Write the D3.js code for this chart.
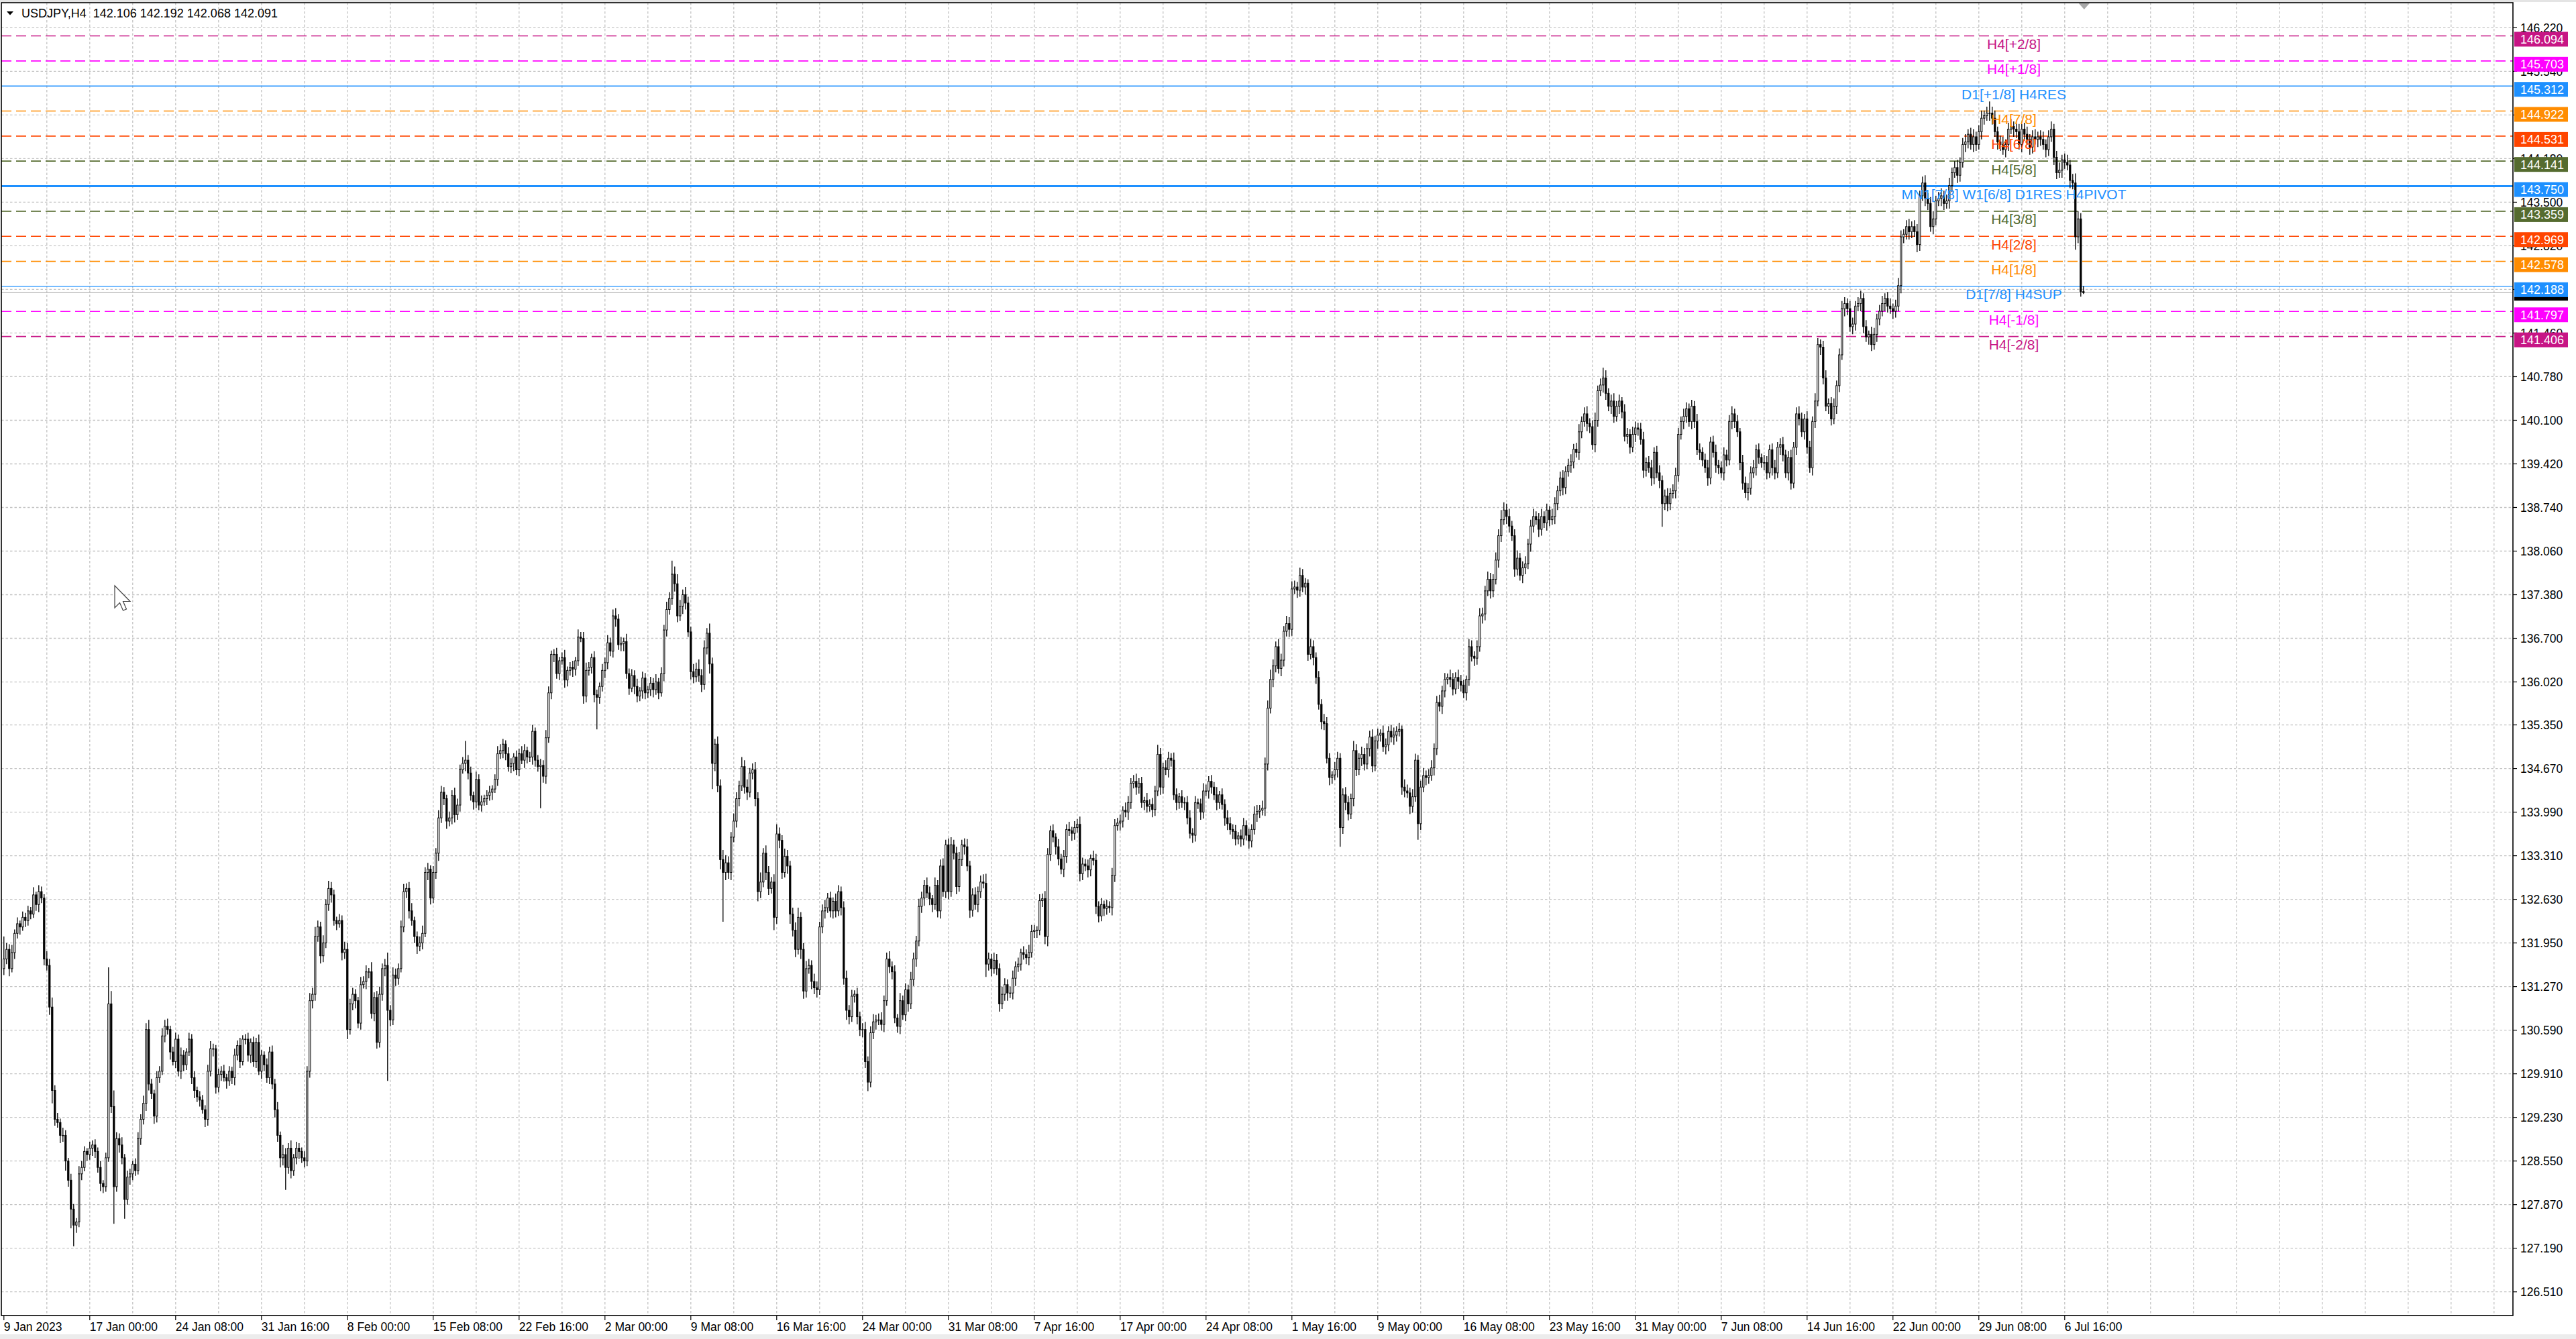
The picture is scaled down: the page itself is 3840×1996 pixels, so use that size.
<!DOCTYPE html>
<html><head><meta charset="utf-8">
<script src="https://cdn.jsdelivr.net/npm/d3@7/dist/d3.min.js"></script>
<style>html,body{margin:0;padding:0;background:#fff;overflow:hidden}svg{display:block}</style>
</head><body>
<svg id="c" width="3840" height="1996"></svg>
<script>
// ---------------- DATA ----------------
const symbolTitle = "USDJPY,H4  142.106 142.192 142.068 142.091";
const firstOpen = 131.55;
// H4 closes, one per bar, from 9 Jan 2023 16:00 to 7 Jul 2023 20:00
const closes = [
131.70,131.85,131.55,131.80,132.10,132.25,132.20,132.35,132.30,132.45,
132.40,132.70,132.55,132.75,132.65,131.70,131.60,130.95,129.65,129.20,
129.15,128.95,128.95,128.55,128.25,127.80,127.55,127.60,128.35,128.45,
128.70,128.65,128.75,128.80,128.70,128.45,128.20,128.15,128.60,131.00,
129.40,128.15,128.90,128.80,128.60,127.95,128.30,128.35,128.50,128.40,
128.90,129.20,129.45,130.60,129.75,129.60,129.25,129.85,129.95,130.50,
130.65,130.60,130.25,130.10,130.45,129.95,130.20,130.05,130.25,130.45,
129.85,129.65,129.55,129.50,129.35,129.20,129.95,130.30,130.30,129.70,
129.90,129.95,129.85,129.80,129.95,129.85,130.20,130.35,130.10,130.45,
130.45,130.20,130.40,130.10,130.40,129.95,130.20,130.05,129.85,130.25,
129.75,129.35,128.95,128.60,128.65,128.45,128.75,128.40,128.60,128.75,
128.70,128.60,128.55,129.95,131.05,131.15,132.05,132.20,131.75,131.95,
132.55,132.80,132.70,132.30,132.25,132.30,131.80,131.85,130.60,131.00,
131.15,131.05,130.70,131.30,131.35,131.50,131.50,130.85,131.10,130.40,
131.15,131.55,131.60,130.90,130.75,131.45,131.40,131.55,132.20,132.75,
132.80,132.45,132.30,132.05,131.90,131.95,132.10,133.05,133.10,132.65,
133.05,133.35,133.90,134.30,134.20,133.85,133.90,134.25,133.95,134.10,
134.65,134.75,134.80,134.60,134.25,134.15,134.50,134.10,134.15,134.20,
134.25,134.30,134.35,134.50,134.90,134.95,135.05,134.90,134.70,134.75,
134.85,134.65,134.90,134.80,134.95,134.85,134.85,135.25,134.80,134.70,
134.72,134.55,135.15,135.85,136.45,136.45,136.15,136.35,136.40,136.05,
136.20,136.25,136.22,136.35,136.72,136.70,135.80,136.20,136.25,136.40,
135.82,135.78,135.95,136.20,136.32,136.63,136.50,137.05,137.00,136.60,
136.62,136.65,136.15,135.92,136.12,135.95,135.80,135.88,136.08,135.85,
135.90,136.00,135.90,136.02,135.85,136.15,136.83,137.15,137.32,137.70,
137.55,137.05,137.20,137.38,137.25,136.80,136.18,136.10,136.22,136.12,
135.98,136.55,136.78,136.30,134.75,135.05,134.40,133.25,133.05,133.20,
133.05,133.60,133.85,134.20,134.40,134.70,134.38,134.30,134.60,134.65,
134.20,132.75,132.90,133.35,133.05,132.80,132.90,132.35,133.65,133.55,
133.05,133.30,133.15,132.40,132.15,131.85,132.35,131.85,131.20,131.55,
131.60,131.35,131.25,131.22,132.20,132.45,132.50,132.65,132.45,132.60,
132.45,132.75,132.50,131.40,130.90,130.80,131.12,131.15,130.80,130.60,
130.60,130.10,129.78,130.55,130.72,130.75,130.75,130.68,131.05,131.70,
131.58,131.50,130.78,130.65,131.05,130.83,131.22,131.00,131.38,131.70,
131.98,132.52,132.65,132.85,132.73,132.64,132.55,132.85,132.45,133.15,
132.75,133.48,132.75,133.48,133.35,132.83,133.25,133.48,133.45,133.15,
132.46,132.70,132.55,132.75,132.90,132.88,131.62,131.70,131.55,131.68,
131.55,131.00,131.15,131.30,131.17,131.17,131.40,131.58,131.62,131.80,
131.77,131.72,131.80,132.13,132.15,132.15,132.61,132.64,132.05,133.33,
133.70,133.60,133.45,133.26,133.10,133.30,133.72,133.70,133.66,133.75,
133.80,133.03,133.18,133.15,133.09,133.27,133.24,132.52,132.37,132.55,
132.49,132.52,132.50,133.00,133.78,133.82,133.85,134.02,133.99,134.14,
134.44,134.47,134.38,134.44,134.14,134.17,134.08,134.11,134.03,134.32,
134.89,134.38,134.68,134.65,134.83,134.80,134.26,134.14,134.23,134.14,
134.14,133.90,133.66,133.63,134.14,134.12,133.99,134.32,134.32,134.47,
134.38,134.26,134.14,134.26,134.11,133.90,133.81,133.72,133.69,133.57,
133.62,133.57,133.78,133.63,133.54,133.72,133.96,134.00,134.02,134.05,
134.74,135.61,136.06,136.27,136.57,136.23,136.36,136.81,136.93,136.84,
137.47,137.50,137.45,137.68,137.50,137.56,136.45,136.57,136.40,136.09,
135.67,135.40,135.37,134.83,134.53,134.57,134.65,134.83,133.75,134.26,
134.14,133.96,134.20,134.95,134.65,134.83,134.89,134.74,134.98,135.16,
134.71,135.10,135.19,135.22,135.01,135.04,135.25,135.16,135.19,135.25,
135.28,134.38,134.32,134.29,134.08,134.23,134.80,133.81,134.38,134.56,
134.53,134.56,134.68,134.98,135.70,135.64,135.88,136.06,136.09,136.06,
135.91,136.09,136.03,135.97,135.85,136.06,136.57,136.42,136.39,136.57,
137.05,137.08,137.44,137.62,137.44,137.62,137.92,138.30,138.55,138.70,
138.60,138.45,138.30,137.78,137.95,137.68,137.80,137.86,138.17,138.45,
138.60,138.55,138.40,138.60,138.50,138.70,138.55,138.60,138.80,139.00,
139.20,139.05,139.30,139.40,139.45,139.65,139.60,139.92,140.08,140.20,
140.05,140.00,139.72,140.10,140.56,140.65,140.76,140.52,140.32,140.40,
140.16,140.32,140.40,140.23,139.85,139.88,139.68,139.88,139.98,139.96,
139.80,139.32,139.44,139.36,139.20,139.60,139.28,139.16,138.80,138.92,
138.80,138.96,139.00,139.24,139.88,140.08,140.16,140.28,140.08,140.32,
140.08,139.64,139.60,139.48,139.36,139.20,139.76,139.60,139.40,139.36,
139.28,139.56,139.48,140.08,140.20,140.08,139.92,139.44,139.12,138.97,
139.04,139.28,139.36,139.64,139.52,139.44,139.44,139.28,139.64,139.36,
139.28,139.68,139.72,139.56,139.28,139.52,139.12,139.68,140.20,140.12,
139.92,140.12,139.68,139.36,140.08,140.40,141.28,141.24,140.76,140.32,
140.36,140.12,140.32,140.64,141.12,141.84,141.92,141.84,141.56,141.60,
141.88,141.92,142.00,141.56,141.40,141.44,141.28,141.44,141.68,141.80,
141.92,142.00,141.88,141.84,141.80,141.88,142.20,142.96,143.00,143.12,
143.04,143.12,143.04,142.84,143.60,143.80,143.56,143.48,143.12,143.24,
143.52,143.56,143.60,143.48,143.52,143.76,143.96,144.04,143.92,144.12,
144.40,144.44,144.56,144.40,144.52,144.40,144.60,144.81,144.85,144.89,
144.89,144.81,144.60,144.44,144.40,144.32,144.40,144.64,144.68,144.64,
144.60,144.40,144.64,144.56,144.48,144.36,144.52,144.48,144.52,144.48,
144.40,144.32,144.52,144.64,144.20,143.96,144.00,144.16,144.12,144.08,
143.84,143.80,142.96,143.24,142.106,142.091
];
// upper shadow above the body, in hundredths of a yen
const wickUp = [
35,10,8,12,6,10,5,9,7,8, 6,12,5,10,8,6,12,10,15,8, 10,6,12,8,5,10,8,6,12,10, 8,5,10,7,9,6,10,5,8,57,
20,25,10,8,12,6,10,8,5,9, 10,8,12,10,15,8,6,10,8,12, 10,12,6,8,10,7,12,8,6,10, 8,10,6,9,8,7,10,12,8,6,
9,8,10,6,8,7,10,8,12,6, 8,10,6,9,7,12,8,6,10,8, 10,8,12,6,15,10,8,12,6,10, 8,6,10,8,12,10,15,10,8,12,
8,12,10,8,6,10,8,12,10,8, 10,8,6,12,8,10,6,15,8,10, 12,8,10,20,8,12,10,8,10,12, 8,10,12,6,8,10,12,8,10,6,
10,8,12,10,8,6,10,8,12,10, 8,10,30,8,10,6,12,8,10,6, 8,10,6,8,12,10,8,6,10,8, 6,10,8,12,10,6,8,10,6,8,
10,8,12,10,6,8,10,6,8,12, 6,8,10,6,12,8,10,12,8,6, 10,8,6,10,8,12,8,10,12,8, 10,6,12,8,10,8,12,6,10,8,
6,10,8,12,6,10,8,12,10,21, 12,15,10,8,12,10,8,12,10,15, 10,12,8,15,10,8,12,10,15,12, 10,8,12,10,8,15,10,12,8,10,
12,10,15,8,12,10,8,12,15,10, 8,12,10,8,10,12,15,8,10,12, 10,8,12,10,8,10,12,8,10,6, 12,10,8,10,12,8,10,6,10,8,
10,12,8,10,12,8,10,12,8,10, 12,8,10,6,12,8,10,8,12,10, 8,12,10,8,12,10,6,12,8,10, 12,8,10,12,8,10,12,8,10,12,
8,10,12,8,10,12,15,10,8,12, 10,8,12,10,8,10,12,8,10,6, 10,8,12,10,8,6,10,8,12,10, 8,10,6,12,8,10,8,12,6,10,
8,12,10,8,10,6,12,10,8,10, 6,10,8,12,10,8,10,6,12,10, 8,10,12,8,10,6,12,8,10,8, 15,10,8,12,10,8,12,10,6,10,
8,10,12,8,10,6,8,12,10,8, 10,8,12,6,10,8,12,10,8,10, 6,10,12,8,10,8,12,10,8,12, 10,12,15,10,8,12,10,8,12,10,
12,10,8,12,10,8,6,12,10,8, 10,8,12,10,8,6,12,10,8,10, 12,10,8,15,10,8,12,10,8,10, 12,8,10,6,12,10,8,10,12,8,
10,6,12,10,8,12,10,8,10,12, 8,10,12,8,10,12,8,10,6,12, 10,8,12,10,8,6,12,10,8,10, 12,10,8,12,10,8,12,10,15,12,
10,12,8,10,12,8,10,12,8,10, 12,8,10,12,8,10,6,12,10,8, 10,12,8,10,12,8,10,12,8,10, 12,8,10,12,8,10,16,12,8,10,
12,8,10,6,12,10,8,12,10,8, 10,12,8,10,12,8,10,12,8,10, 12,8,10,12,10,8,12,10,8,10, 8,12,10,8,10,12,8,10,12,8,
10,12,8,10,12,8,10,6,12,10, 8,10,12,8,10,6,12,10,8,10, 12,8,10,12,8,10,12,8,10,12, 10,8,12,10,8,12,10,8,10,12,
8,10,12,8,10,12,10,8,12,10, 8,10,12,8,10,6,12,10,8,10, 12,8,10,12,8,10,12,10,8,10, 12,8,10,12,8,10,12,8,10,12,
8,10,12,8,10,12,8,10,12,8, 10,12,8,10,12,8,10,12,8,10, 18,10,12,8,10,12,8,10,12,8, 10,12,8,10,12,8,10,12,8,10,
12,8,10,12,8,10,12,8,10,12, 8,10,15,12,9,9
];
// lower shadow below the body, in hundredths of a yen
const wickDn = [
10,8,12,6,10,8,12,6,10,8, 8,6,10,12,8,10,8,12,20,10, 8,12,10,15,10,30,33,12,8,10, 6,10,8,12,10,8,12,10,8,6,
10,58,8,12,10,30,8,12,10,8, 6,10,8,12,10,8,12,10,8,6, 10,8,12,6,10,8,12,10,8,6, 10,12,8,10,6,12,10,8,12,10,
8,10,6,12,8,10,12,8,10,6, 8,10,12,8,10,6,12,10,8,10, 8,12,10,15,12,35,10,12,8,10, 12,8,10,8,10,12,10,8,12,10,
8,10,12,8,10,6,12,10,15,8, 10,12,8,10,6,12,10,8,12,10, 8,10,12,110,10,8,12,10,6,8, 10,12,8,10,12,8,10,6,12,10,
8,10,12,8,10,12,8,10,12,8, 10,6,12,10,8,12,10,8,10,6, 10,8,12,6,10,8,12,10,8,10, 12,8,10,6,12,10,8,12,10,8,
65,10,12,8,10,12,8,10,6,12, 10,8,12,10,8,6,12,10,8,10, 12,50,10,8,12,10,8,10,12,8, 10,12,8,10,6,12,10,8,12,10,
8,10,12,8,10,6,12,10,8,10, 12,10,8,12,10,8,12,10,8,10, 12,8,10,15,40,12,10,15,77,12, 10,12,8,10,12,8,10,12,8,10,
12,15,10,8,12,10,8,20,10,12, 10,8,12,15,10,12,8,15,12,10, 8,12,10,12,8,10,12,8,10,12, 10,8,12,10,15,12,8,10,12,10,
12,10,14,8,10,12,8,10,12,8, 10,12,8,10,12,8,10,12,8,10, 12,8,10,12,8,10,12,8,10,12, 8,10,12,8,10,12,8,10,12,8,
12,10,8,12,10,8,20,10,12,8, 10,12,8,10,12,8,10,12,8,10, 8,10,12,8,10,12,8,10,12,15, 10,8,12,10,8,12,10,8,12,10,
8,12,10,8,12,10,8,12,10,8, 12,10,8,12,10,8,12,10,8,12, 10,8,12,10,8,12,10,8,12,10, 8,12,10,8,12,10,8,12,10,8,
12,10,8,12,10,8,12,10,8,12, 10,8,12,10,8,12,10,8,12,10, 8,12,10,8,12,10,8,12,10,8, 12,10,8,12,10,8,12,10,8,12,
10,8,12,10,8,12,10,8,12,10, 8,12,10,8,12,10,8,12,30,10, 12,10,8,12,10,8,12,10,8,12, 10,8,12,10,8,12,10,8,12,10,
8,12,10,8,12,10,8,25,10,8, 12,10,8,12,10,8,12,10,8,12, 10,8,12,10,8,12,10,8,12,10, 8,12,10,8,12,10,8,12,10,8,
12,10,8,12,10,8,12,10,8,12, 10,8,12,10,8,12,10,8,12,10, 8,12,10,8,12,10,8,12,10,8, 12,10,8,12,10,8,12,10,8,12,
10,8,12,10,8,12,10,8,12,10, 8,12,10,8,12,10,8,12,36,10, 12,10,8,12,10,8,12,10,8,12, 10,8,12,10,8,12,10,8,12,10,
8,12,10,8,12,10,8,12,10,8, 12,10,8,12,10,8,12,10,8,12, 10,8,12,10,8,12,10,8,12,10, 8,12,10,8,12,10,8,12,10,8,
12,10,8,12,10,8,12,10,8,12, 10,8,12,10,8,12,10,8,12,10, 8,12,10,8,12,10,8,12,10,8, 12,10,8,12,10,8,12,10,8,12,
10,8,12,10,8,12,10,8,12,10, 8,12,10,8,12,10,8,12,10,8, 12,10,8,12,10,8,12,10,8,12, 10,8,12,10,8,12,10,8,12,10,
8,12,10,8,12,10,8,12,10,8, 12,10,20,10,8,2.3
];
const priceTicks = [146.22,145.54,144.86,144.18,143.50,142.82,142.14,141.46,140.78,140.10,139.42,138.74,138.06,137.38,136.70,
  136.02,135.35,134.67,133.99,133.31,132.63,131.95,131.27,130.59,129.91,129.23,128.55,127.87,127.19,126.51];
const priceTickLabels = ["146.220","145.540","144.860","144.180","143.500","142.820","142.140","141.460","140.780","140.100",
  "139.420","138.740","138.060","137.380","136.700","136.020","135.350","134.670","133.990","133.310","132.630","131.950",
  "131.270","130.590","129.910","129.230","128.550","127.870","127.190","126.510"];
// tick labels fully covered by level price boxes in the reference
const hiddenTickLabels = ["144.860","142.140"];
const timeLabels = ["9 Jan 2023","17 Jan 00:00","24 Jan 08:00","31 Jan 16:00","8 Feb 00:00","15 Feb 08:00","22 Feb 16:00",
  "2 Mar 00:00","9 Mar 08:00","16 Mar 16:00","24 Mar 00:00","31 Mar 08:00","7 Apr 16:00","17 Apr 00:00","24 Apr 08:00",
  "1 May 16:00","9 May 00:00","16 May 08:00","23 May 16:00","31 May 00:00","7 Jun 08:00","14 Jun 16:00","22 Jun 00:00",
  "29 Jun 08:00","6 Jul 16:00"];
const timeLabelBars = [0,32,64,96,128,160,192,224,256,288,320,352,384,416,448,480,512,544,576,608,640,672,704,736,768];
const levelNames  = ["H4[+2/8]","H4[+1/8]","D1[+1/8] H4RES","H4[7/8]","H4[6/8]","H4[5/8]","MN1[7/8] W1[6/8] D1RES H4PIVOT",
  "H4[3/8]","H4[2/8]","H4[1/8]","D1[7/8] H4SUP","H4[-1/8]","H4[-2/8]"];
const levelPrices = [146.094,145.703,145.312,144.922,144.531,144.141,143.750,143.359,142.969,142.578,142.188,141.797,141.406];
const levelColors = ["#C71585","#FF00FF","#1E90FF","#FF8C00","#FF4500","#556B2F","#1E90FF","#556B2F","#FF4500","#FF8C00","#1E90FF","#FF00FF","#C71585"];
const levelStyles = ["dash","dash","thin","dash","dash","dash","thick","dash","dash","dash","thin","dash","dash"];
const bidPrice = 142.091;

// ---------------- CHART ----------------
const W = 3840, H = 1996;
const plot = {l: 2, t: 4, r: 3746, b: 1961};
const FONT = "'Liberation Sans', Arial, sans-serif";
const svg = d3.select("#c");

const nBars = closes.length;
const x = d3.scaleLinear().domain([0, nBars - 1]).range([5.8, 5.8 + 4 * (nBars - 1)]);
const y = d3.scaleLinear().domain([126.51, 146.22]).range([1925.7, 41.4]);

const bars = closes.map((c, i) => {
  const o = i === 0 ? firstOpen : closes[i - 1];
  const hi = Math.max(o, c) + wickUp[i] / 100;
  const lo = Math.min(o, c) - wickDn[i] / 100;
  return {i, o, h: hi, l: lo, c};
});
bars[nBars - 1].h = 142.192; bars[nBars - 1].l = 142.068;

svg.append("rect").attr("width", W).attr("height", H).attr("fill", "#ffffff");
svg.append("rect").attr("x", 0).attr("y", 0).attr("width", W).attr("height", 3).attr("fill", "#e4e4e4");
svg.append("rect").attr("x", 0).attr("y", 1989).attr("width", W).attr("height", 7).attr("fill", "#ececec");

const defs = svg.append("defs");
defs.append("clipPath").attr("id", "pc").append("rect")
  .attr("x", plot.l).attr("y", plot.t).attr("width", plot.r - plot.l).attr("height", plot.b - plot.t);
const g = svg.append("g").attr("clip-path", "url(#pc)");

// grid
const gridG = g.append("g").attr("stroke", "#c4c4c4").attr("stroke-width", 1.3).attr("stroke-dasharray", "3.5,3");
gridG.selectAll("line.h").data(priceTicks).join("line").attr("class", "h")
  .attr("x1", plot.l).attr("x2", plot.r).attr("y1", d => y(d)).attr("y2", d => y(d));
const vGrid = d3.range(16, 16 * 59, 16).filter(b => x(b) < plot.r - 20);
gridG.selectAll("line.v").data(vGrid).join("line").attr("class", "v")
  .attr("y1", plot.t).attr("y2", plot.b).attr("x1", d => x(d)).attr("x2", d => x(d));

// bid line
g.append("line").attr("x1", plot.l).attr("x2", plot.r).attr("y1", y(bidPrice)).attr("y2", y(bidPrice))
  .attr("stroke", "#c0c0c0").attr("stroke-width", 1.5);

// level lines
const levels = levelNames.map((n, k) => ({n, p: levelPrices[k], col: levelColors[k], st: levelStyles[k]}));
g.selectAll("line.lvl").data(levels).join("line").attr("class", "lvl")
  .attr("x1", plot.l).attr("x2", plot.r).attr("y1", d => y(d.p)).attr("y2", d => y(d.p))
  .attr("stroke", d => d.col)
  .attr("stroke-width", d => d.st === "thick" ? 3 : d.st === "thin" ? 1.4 : 1.6)
  .attr("stroke-dasharray", d => d.st === "dash" ? "15,7" : null);

// candles
const cg = g.append("g");
cg.selectAll("line.wick").data(bars).join("line").attr("class", "wick")
  .attr("x1", d => x(d.i)).attr("x2", d => x(d.i))
  .attr("y1", d => y(d.h)).attr("y2", d => y(d.l))
  .attr("stroke", "#000").attr("stroke-width", 1.3);
cg.selectAll("rect.body").data(bars).join("rect").attr("class", "body")
  .attr("x", d => x(d.i) - 1.1).attr("width", 2.2)
  .attr("y", d => y(Math.max(d.o, d.c)))
  .attr("height", d => Math.max(0.6, y(Math.min(d.o, d.c)) - y(Math.max(d.o, d.c))))
  .attr("fill", d => d.c >= d.o ? "#ffffff" : "#000000")
  .attr("stroke", "#000").attr("stroke-width", 1);

// level labels
g.selectAll("text.lvl").data(levels).join("text").attr("class", "lvl")
  .attr("x", 3002).attr("y", d => y(d.p) + 19.5)
  .attr("text-anchor", "middle").attr("font-family", FONT).attr("font-size", 21)
  .attr("fill", d => d.col).text(d => d.n);

// header
svg.append("path").attr("d", "M10,17 L20,17 L15,22.5 Z").attr("fill", "#000");
svg.append("text").attr("x", 32).attr("y", 26).attr("font-family", FONT).attr("font-size", 18)
  .attr("fill", "#000").attr("xml:space", "preserve").style("white-space", "pre").text(symbolTitle);

// chart shift marker
svg.append("path").attr("d", `M${x(nBars - 1) - 7},5 L${x(nBars - 1) + 9},5 L${x(nBars - 1) + 1},14 Z`).attr("fill", "#a8a8a8");

// mouse cursor
svg.append("path")
  .attr("d", "M171,873 L171,906 L178.5,898.5 L183.5,910 L188.5,908 L183.5,896.5 L194,896.5 Z")
  .attr("fill", "#ffffff").attr("stroke", "#444").attr("stroke-width", 1.2);

// frame
svg.append("rect").attr("x", plot.l).attr("y", plot.t).attr("width", plot.r - plot.l).attr("height", plot.b - plot.t)
  .attr("fill", "none").attr("stroke", "#000").attr("stroke-width", 1.6);

// price axis
const yAxisG = svg.append("g");
yAxisG.selectAll("line").data(priceTicks).join("line")
  .attr("x1", plot.r).attr("x2", plot.r + 6).attr("y1", d => y(d)).attr("y2", d => y(d))
  .attr("stroke", "#000").attr("stroke-width", 1.2);
const tickItems = priceTicks.map((p, k) => ({p, t: priceTickLabels[k]})).filter(d => !hiddenTickLabels.includes(d.t));
yAxisG.selectAll("text").data(tickItems).join("text")
  .attr("x", 3757).attr("y", d => y(d.p)).attr("dy", "0.35em")
  .attr("font-family", FONT).attr("font-size", 17.5).attr("fill", "#000")
  .text(d => d.t);

// price boxes (bid box sits beneath the 142.188 level box)
const boxG = svg.append("g");
boxG.append("rect").attr("x", 3748).attr("width", 80).attr("y", y(bidPrice) - 10).attr("height", 22).attr("fill", "#000");
boxG.selectAll("rect.lv").data(levels).join("rect").attr("class", "lv")
  .attr("x", 3748).attr("width", 80).attr("y", d => y(d.p) - 6).attr("height", 22)
  .attr("fill", d => d.col);
boxG.selectAll("text").data(levels).join("text")
  .attr("x", 3757).attr("y", d => y(d.p) + 5).attr("dy", "0.36em")
  .attr("font-family", FONT).attr("font-size", 18).attr("fill", "#fff")
  .text(d => d.p.toFixed(3));

// time axis
const xAxisG = svg.append("g");
xAxisG.selectAll("line").data(timeLabelBars).join("line")
  .attr("x1", d => x(d)).attr("x2", d => x(d)).attr("y1", plot.b).attr("y2", plot.b + 7)
  .attr("stroke", "#000").attr("stroke-width", 1.2);
xAxisG.selectAll("text").data(timeLabelBars).join("text")
  .attr("x", d => x(d)).attr("y", 1984)
  .attr("font-family", FONT).attr("font-size", 17.5).attr("fill", "#000")
  .text((d, k) => timeLabels[k]);
</script>
</body></html>
